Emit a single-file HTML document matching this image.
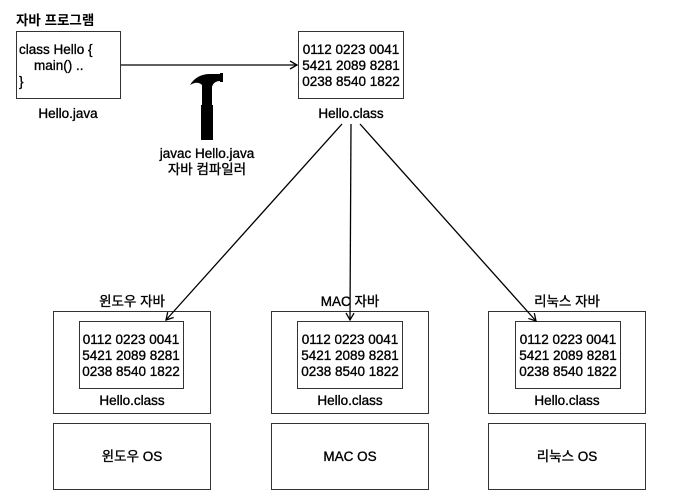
<!DOCTYPE html>
<html><head><meta charset="utf-8"><style>
html,body{margin:0;padding:0;background:#fff;}
svg{display:block;}
text{font-family:"Liberation Sans","Noto Sans CJK KR",sans-serif;font-size:13.5px;fill:#000;stroke:#000;stroke-width:0.35;}
</style></head><body>
<svg width="697" height="501" viewBox="0 0 697 501" xmlns="http://www.w3.org/2000/svg">
<defs>
<marker id="a" markerWidth="10" markerHeight="10" refX="8" refY="5" orient="auto" markerUnits="userSpaceOnUse">
<path d="M1,1 L8,5 L1,9" fill="none" stroke="#000" stroke-width="1.3"/>
</marker>
</defs>
<g fill="none" stroke="#333" stroke-width="1">
<rect x="16.5" y="31.5" width="104" height="67"/>
<rect x="298.5" y="31.5" width="105" height="67"/>
<rect x="53.5" y="311.5" width="157" height="102"/>
<rect x="79.5" y="321.5" width="104" height="67"/>
<rect x="53.5" y="423.5" width="157" height="66"/>
<rect x="271.5" y="311.5" width="157" height="102"/>
<rect x="297.5" y="321.5" width="105" height="67"/>
<rect x="271.5" y="423.5" width="157" height="66"/>
<rect x="488.5" y="311.5" width="157" height="102"/>
<rect x="515.5" y="321.5" width="105" height="67"/>
<rect x="488.5" y="423.5" width="157" height="66"/>
</g>
<g stroke="#000" stroke-width="1.3" fill="none">
<line x1="121" y1="65" x2="297" y2="65" marker-end="url(#a)"/>
<line x1="342" y1="124" x2="166" y2="320" marker-end="url(#a)"/>
<line x1="351" y1="124" x2="350" y2="320" marker-end="url(#a)"/>
<line x1="360" y1="124" x2="536" y2="321" marker-end="url(#a)"/>
</g>
<!-- hammer -->
<path d="M190,85 C194,78 201,74 210,74 L220,74 L220,73 L223,73 L223,82 L220,82 L220,81 C216,81 213,83 212,87 L212,105 L213,105 L213,140 L201,140 L201,105 L202,105 L202,85 C199,82 195,82 190,85 Z" fill="#000"/>
<text x="16" y="25" font-weight="bold" style="stroke-width:0">자바 프로그램</text>
<text x="19" y="54">class Hello {</text>
<text x="34" y="70">main() ..</text>
<text x="19" y="86">}</text>
<text x="68" y="118" text-anchor="middle">Hello.java</text>
<g text-anchor="middle">
<text x="351" y="54">0112 0223 0041</text>
<text x="351" y="70">5421 2089 8281</text>
<text x="351" y="86">0238 8540 1822</text>
<text x="351" y="118">Hello.class</text>
<text x="207" y="158">javac Hello.java</text>
<text x="207" y="174">자바 컴파일러</text>
<text x="132" y="306">윈도우 자바</text>
<text x="350" y="306">MAC 자바</text>
<text x="567" y="306">리눅스 자바</text>
<text x="131" y="344">0112 0223 0041</text>
<text x="131" y="360">5421 2089 8281</text>
<text x="131" y="376">0238 8540 1822</text>
<text x="132" y="405">Hello.class</text>
<text x="132" y="461">윈도우 OS</text>
<text x="350" y="344">0112 0223 0041</text>
<text x="350" y="360">5421 2089 8281</text>
<text x="350" y="376">0238 8540 1822</text>
<text x="350" y="405">Hello.class</text>
<text x="350" y="461">MAC OS</text>
<text x="568" y="344">0112 0223 0041</text>
<text x="568" y="360">5421 2089 8281</text>
<text x="568" y="376">0238 8540 1822</text>
<text x="567" y="405">Hello.class</text>
<text x="567" y="461">리눅스 OS</text>
</g>
</svg>
</body></html>
